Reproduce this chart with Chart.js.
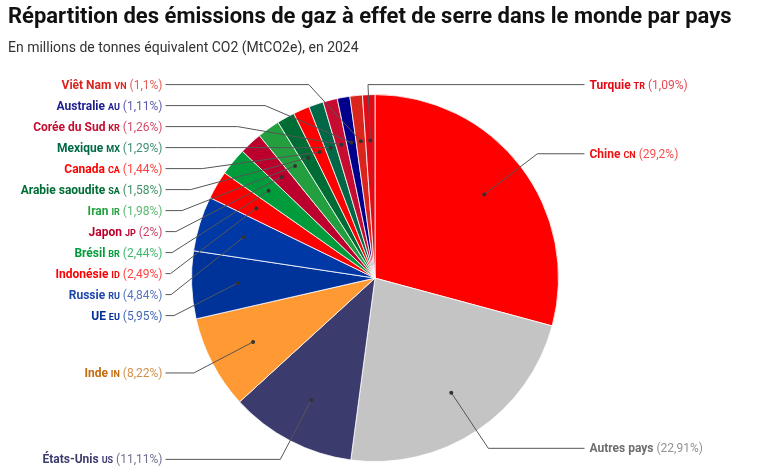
<!DOCTYPE html>
<html lang="fr">
<head>
<meta charset="utf-8">
<title>Émissions de gaz à effet de serre par pays</title>
<script src="https://cdn.jsdelivr.net/npm/chart.js@4.4.1/dist/chart.umd.min.js"></script>
<style>
  html, body { margin: 0; padding: 0; background: #fff; }
  #wrap { width: 765px; height: 475px; }
</style>
</head>
<body>
<div id="wrap"><canvas id="emissionsChart" width="765" height="475"></canvas></div>
<script>
const countries = ['Chine', 'Autres pays', 'États-Unis', 'Inde', 'UE', 'Russie', 'Indonésie', 'Brésil', 'Japon', 'Iran',
  'Arabie saoudite', 'Canada', 'Mexique', 'Corée du Sud', 'Australie', 'Viêt Nam', 'Turquie'];
const codes = ['CN', '', 'US', 'IN', 'EU', 'RU', 'ID', 'BR', 'JP', 'IR', 'SA', 'CA', 'MX', 'KR', 'AU', 'VN', 'TR'];
const shares = [29.2, 22.91, 11.11, 8.22, 5.95, 4.84, 2.49, 2.44, 2, 1.98, 1.58, 1.44, 1.29, 1.26, 1.11, 1.1, 1.09];

const sliceColors = ['#ff0000', '#c4c4c4', '#3c3b6e', '#ff9933', '#003399', '#0039a6', '#ff0000', '#009c3b', '#bc002d',
  '#239f40', '#006c35', '#ff0000', '#006847', '#c60c30', '#00008b', '#da251d', '#e30a17'];
const textColors = ['#ee1111', '#6e6e6e', '#3c3b6e', '#c46b0e', '#003399', '#1f48a8', '#ff0000', '#009c3b', '#bc002d',
  '#239f40', '#006c35', '#ff0000', '#006847', '#c60c30', '#1c1c8f', '#da251d', '#e30a17'];

const FONT = 'Roboto, "Noto Sans", sans-serif';

function formatShare(v) {
  return '(' + String(v).replace('.', ',') + '%)';
}

// draws "Name CODE (x,x%)" starting at x (align 'left') or ending at x (align 'right')
function drawLabel(ctx, i, x, y, align) {
  const parts = [
    { text: countries[i], font: 'bold 12px ' + FONT, alpha: 1 },
    { text: codes[i], font: 'bold 9px ' + FONT, alpha: 1 },
    { text: formatShare(shares[i]), font: '12px ' + FONT, alpha: 0.75 }
  ].filter(p => p.text !== '');
  ctx.font = '12px ' + FONT;
  const space = ctx.measureText(' ').width;
  let total = 0;
  parts.forEach((p, k) => {
    ctx.font = p.font;
    p.w = ctx.measureText(p.text).width;
    total += p.w + (k > 0 ? space : 0);
  });
  let cur = align === 'right' ? x - total : x;
  ctx.textAlign = 'left';
  ctx.textBaseline = 'alphabetic';
  ctx.fillStyle = textColors[i];
  parts.forEach(p => {
    ctx.font = p.font;
    ctx.globalAlpha = p.alpha;
    ctx.fillText(p.text, cur, y + 4);
    cur += p.w + space;
  });
  ctx.globalAlpha = 1;
}

const pieLabels = {
  id: 'pieLabels',
  afterDatasetsDraw(chart) {
    const ctx = chart.ctx;
    const arcs = chart.getDatasetMeta(0).data;
    if (!arcs.length) return;
    const ref = arcs[0].getProps(['x', 'y', 'outerRadius'], true);
    const cx = ref.x, cy = ref.y, r = ref.outerRadius;
    const bendR = r + 21;
    const colGap = r + 26;
    const rowH = 21;
    const top = cy - r - 10;
    const bottom = cy + r;

    const items = arcs.map((arc, i) => {
      const p = arc.getProps(['startAngle', 'endAngle'], true);
      const mid = (p.startAngle + p.endAngle) / 2;
      const bx = cx + Math.cos(mid) * bendR;
      const by = cy + Math.sin(mid) * bendR;
      return {
        i: i,
        dotX: cx + Math.cos(mid) * r * 0.75,
        dotY: cy + Math.sin(mid) * r * 0.75,
        bx: bx,
        by: by,
        side: bx >= cx - 10 ? 1 : -1,
        y: by
      };
    });

    // keep labels of one side apart from each other
    [1, -1].forEach(side => {
      const list = items.filter(it => it.side === side).sort((a, b) => a.by - b.by);
      let prev = -Infinity;
      list.forEach(it => {
        it.y = Math.max(it.by, prev + rowH, top);
        prev = it.y;
      });
      let next = Infinity;
      for (let k = list.length - 1; k >= 0; k--) {
        list[k].y = Math.min(list[k].y, next - rowH, bottom);
        next = list[k].y;
      }
    });

    ctx.save();
    items.forEach(it => {
      const natSide = it.bx >= cx ? 1 : -1;
      const dy = it.y - cy;
      let kx;
      if (natSide !== it.side) kx = it.bx;
      else kx = cx + it.side * Math.sqrt(Math.max(bendR * bendR - dy * dy, 0));
      const colX = cx + it.side * colGap;

      ctx.lineWidth = 1;
      ctx.strokeStyle = '#555';
      ctx.beginPath();
      ctx.moveTo(it.dotX, it.dotY);
      ctx.lineTo(kx, it.y);
      ctx.lineTo(colX, it.y);
      ctx.stroke();

      ctx.fillStyle = '#333';
      ctx.beginPath();
      ctx.arc(it.dotX, it.dotY, 2, 0, Math.PI * 2);
      ctx.fill();

      if (it.side === 1) drawLabel(ctx, it.i, colX + 5, it.y, 'left');
      else drawLabel(ctx, it.i, colX - 3, it.y, 'right');
    });
    ctx.restore();
  }
};

const chart = new Chart(document.getElementById('emissionsChart'), {
  type: 'pie',
  data: {
    labels: countries,
    datasets: [{
      data: shares,
      backgroundColor: sliceColors,
      borderColor: '#ffffff',
      borderWidth: 0.8
    }]
  },
  options: {
    responsive: false,
    animation: false,
    layout: { padding: { left: 8, right: 23, top: 0, bottom: 13 } },
    plugins: {
      legend: { display: false },
      tooltip: { enabled: false },
      title: {
        display: true,
        text: 'Répartition des émissions de gaz à effet de serre dans le monde par pays',
        align: 'start',
        color: '#111',
        font: { family: FONT, size: 22, weight: 'bold' },
        padding: { top: 4, bottom: 10 }
      },
      subtitle: {
        display: true,
        text: 'En millions de tonnes équivalent CO2 (MtCO2e), en 2024',
        align: 'start',
        color: '#333',
        font: { family: FONT, size: 14 },
        padding: { top: 0, bottom: 37 }
      }
    }
  },
  plugins: [pieLabels]
});
</script>
</body>
</html>
